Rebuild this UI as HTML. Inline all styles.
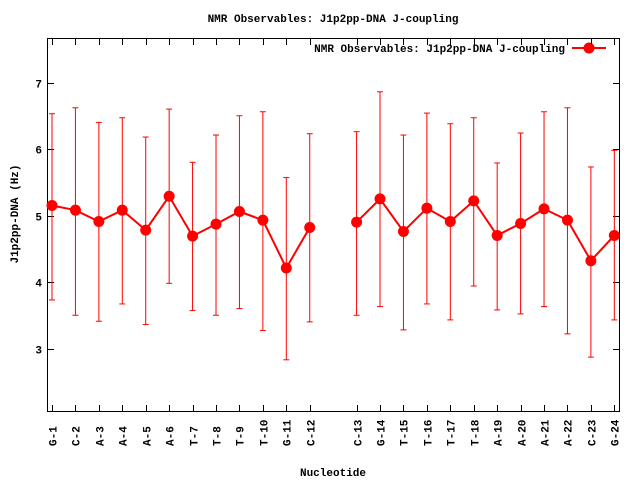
<!DOCTYPE html>
<html><head><meta charset="utf-8"><style>
html,body{margin:0;padding:0;background:#fff;}
svg{display:block;}
text{font-family:"Liberation Mono","DejaVu Sans Mono",monospace;font-weight:bold;font-size:11px;fill:#000;}
</style></head><body>
<svg id="s" width="640" height="480" viewBox="0 0 640 480" xmlns="http://www.w3.org/2000/svg">
<rect x="0" y="0" width="640" height="480" fill="#fff"/>
<text x="333" y="22" text-anchor="middle">NMR Observables: J1p2pp-DNA J-coupling</text>
<rect x="47.5" y="38.5" width="572" height="373" fill="none" stroke="#000" stroke-width="1"/>
<text x="565" y="52" text-anchor="end">NMR Observables: J1p2pp-DNA J-coupling</text>
<line x1="572" y1="48" x2="606" y2="48" stroke="#f00" stroke-width="2"/>
<circle cx="589" cy="48" r="5.5" fill="#f00"/>
<text x="30" y="214" text-anchor="middle" transform="rotate(-90 18 214)" dx="-12">J1p2pp-DNA (Hz)</text>
<text x="333" y="476" text-anchor="middle">Nucleotide</text>
<g id="g"></g>
</svg>
<script>
var ns="http://www.w3.org/2000/svg",g=document.getElementById('g');
function el(t,a,txt){var e=document.createElementNS(ns,t);for(var k in a)e.setAttribute(k,a[k]);if(txt)e.textContent=txt;g.appendChild(e);return e;}
function Y(v){return 215.5-(v-5)*66.5;}
[3,4,5,6,7].forEach(function(v){var y=Math.round(Y(v))+0.5;
el('line',{x1:47.5,y1:y,x2:54,y2:y,stroke:'#000'});
el('line',{x1:619.5,y1:y,x2:613,y2:y,stroke:'#000'});
el('text',{x:42,y:y+4,'text-anchor':'end'},String(v));});
var labs=['G-1','C-2','A-3','A-4','A-5','A-6','T-7','T-8','T-9','T-10','G-11','C-12','C-13','G-14','T-15','T-16','T-17','T-18','A-19','A-20','A-21','A-22','C-23','G-24'];
var d=[[5.15,6.53,3.73],[5.08,6.62,3.50],[4.91,6.40,3.41],[5.08,6.47,3.67],[4.78,6.18,3.36],[5.29,6.60,3.98],[4.69,5.80,3.57],[4.87,6.21,3.50],[5.06,6.50,3.60],[4.93,6.56,3.27],[4.21,5.57,2.83],[4.82,6.23,3.40],
[4.90,6.26,3.50],[5.25,6.86,3.63],[4.76,6.21,3.28],[5.11,6.54,3.67],[4.91,6.38,3.43],[5.22,6.47,3.94],[4.70,5.79,3.58],[4.88,6.24,3.52],[5.10,6.56,3.63],[4.93,6.62,3.22],[4.32,5.73,2.87],[4.70,5.98,3.43]];
function X(i){var k=i<12?i:i+1;return 52+k*23.43;}
for(var i=0;i<24;i++){var x=Math.round(X(i))+0.5;
el('line',{x1:x,y1:411.5,x2:x,y2:405,stroke:'#000'});
el('line',{x1:x,y1:38.5,x2:x,y2:45,stroke:'#000'});
el('text',{x:x+4,y:446,'text-anchor':'start',transform:'rotate(-90 '+(x+4)+' 446)'},labs[i]);}
for(i=0;i<24;i++){var x=X(i);var t=Y(d[i][1]),b=Y(d[i][2]);
el('line',{x1:x,y1:t,x2:x,y2:b,stroke:'#f00','stroke-width':1});
el('line',{x1:x-3,y1:t,x2:x+3,y2:t,stroke:'#f00'});
el('line',{x1:x-3,y1:b,x2:x+3,y2:b,stroke:'#f00'});}
function poly(a,b){var p=[];for(var i=a;i<b;i++)p.push(X(i)+','+Y(d[i][0]));el('polyline',{points:p.join(' '),fill:'none',stroke:'#f00','stroke-width':2});}
poly(0,12);poly(12,24);
for(i=0;i<24;i++)el('circle',{cx:X(i),cy:Y(d[i][0]),r:5.5,fill:'#f00'});
</script>
</body></html>
